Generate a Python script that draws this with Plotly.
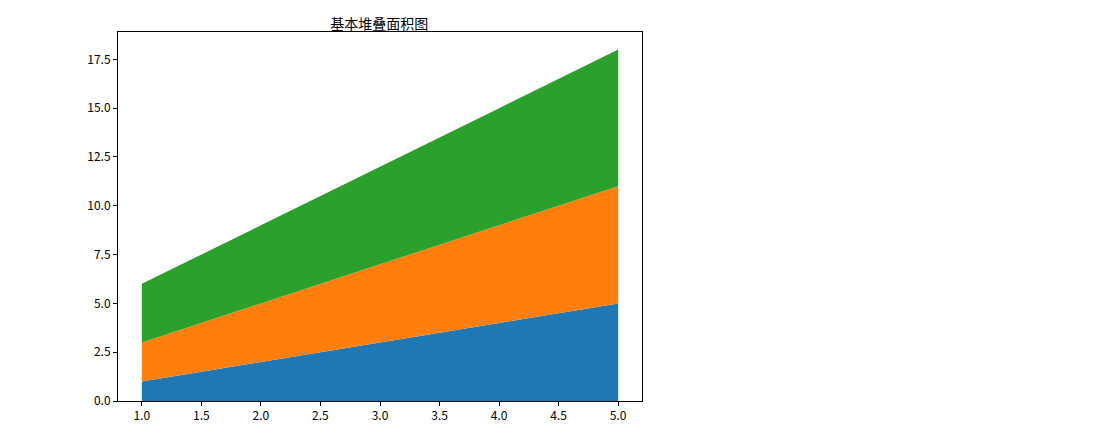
import plotly.graph_objects as go

# 数据
x = [1, 2, 3, 4, 5]
y1 = [1, 2, 3, 4, 5]
y2 = [2, 3, 4, 5, 6]
y3 = [3, 4, 5, 6, 7]

colors = ['#1f77b4', '#ff7f0e', '#2ca02c']

fig = go.Figure()
for ys, c in zip([y1, y2, y3], colors):
    fig.add_trace(go.Scatter(x=x, y=ys, stackgroup='one', mode='none',
                             fillcolor=c, showlegend=False))

axis = dict(showline=True, linecolor='black', linewidth=1, mirror=True,
            ticks='outside', ticklen=4, tickcolor='black', showgrid=False,
            zeroline=False, tickformat='.1f')

fig.update_layout(
    width=1095, height=434,
    paper_bgcolor='white', plot_bgcolor='white',
    font=dict(family='Noto Sans CJK SC', size=12, color='black'),
    title=dict(text='基本堆叠面积图', x=0.339, xanchor='center', y=0.975,
               font=dict(size=14)),
    margin=dict(l=110, r=461, t=24, b=41),
    xaxis=dict(axis, range=[0.8, 5.2], dtick=0.5),
    yaxis=dict(axis, range=[0, 18.9], dtick=2.5),
)

fig.write_html("out.html")
